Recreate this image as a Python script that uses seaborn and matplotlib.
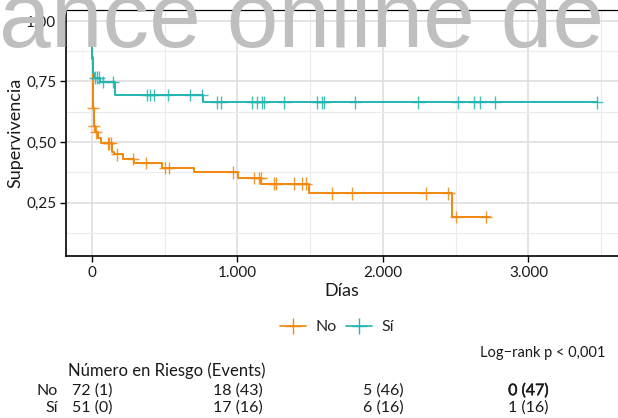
import numpy as np
import pandas as pd
import seaborn as sns
import matplotlib.pyplot as plt
import matplotlib.patheffects as pe
from matplotlib.lines import Line2D
from matplotlib.ticker import FuncFormatter, MultipleLocator
from matplotlib.transforms import blended_transform_factory

groups = ['No', 'Sí']
palette = {'No': '#F0870E', 'Sí': '#22B5B0'}

# Kaplan-Meier steps (days, survival)
no_t = [0, 1, 3, 5, 7, 8, 11, 20, 40, 62, 135, 150, 215, 289, 479, 703, 1001, 1162, 1493, 2476, 2735]
no_s = [1.0, 0.93, 0.85, 0.76, 0.69, 0.64, 0.567, 0.54, 0.515, 0.495, 0.46, 0.449, 0.43, 0.414,
        0.394, 0.375, 0.352, 0.329, 0.288, 0.191, 0.191]
no_cens = [9, 13, 27, 112, 119, 128, 174, 284, 371, 502, 531, 969, 1113, 1148, 1159, 1253, 1265,
           1390, 1441, 1469, 1650, 1785, 2293, 2449, 2500, 2706]

si_t = [0, 1, 3, 6, 10, 14, 55, 158, 763, 3470]
si_s = [1.0, 0.902, 0.843, 0.804, 0.784, 0.766, 0.748, 0.694, 0.664, 0.664]
si_cens = [21, 36, 48, 76, 146, 376, 399, 428, 520, 674, 754, 857, 890, 1102, 1132, 1166, 1184,
           1322, 1550, 1579, 1598, 1808, 2243, 2513, 2625, 2667, 2773, 3469]

risk_times = [0, 1000, 2000, 3000]
risk_no = [72, 18, 5, 0]
events_no = [1, 43, 46, 47]
risk_si = [51, 17, 6, 1]
events_si = [0, 16, 16, 16]

steps = pd.concat([
    pd.DataFrame({'t': no_t, 's': no_s, 'g': 'No'}),
    pd.DataFrame({'t': si_t, 's': si_s, 'g': 'Sí'}),
])


def surv_at(ts, ss, c):
    idx = np.searchsorted(ts, c, side='right') - 1
    return np.asarray(ss)[idx]


cens = pd.concat([
    pd.DataFrame({'t': no_cens, 's': surv_at(no_t, no_s, no_cens), 'g': 'No'}),
    pd.DataFrame({'t': si_cens, 's': surv_at(si_t, si_s, si_cens), 'g': 'Sí'}),
])

sns.set_theme(style='white')
plt.rcParams['font.family'] = ['Lato', 'DejaVu Sans']

fig = plt.figure(figsize=(6.18, 4.18), dpi=100)
ax = fig.add_axes([66 / 618, 1 - 256 / 418, 552 / 618, 246 / 418])

sns.lineplot(data=steps, x='t', y='s', hue='g', palette=palette, drawstyle='steps-post',
             estimator=None, linewidth=1.4, legend=False, ax=ax, zorder=3)
sns.scatterplot(data=cens, x='t', y='s', hue='g', palette=palette, marker='+', s=80,
                linewidth=1.0, alpha=0.85, legend=False, ax=ax, zorder=4)

ax.set_xlim(-178, 3615)
ax.set_ylim(0.03, 1.045)
ax.xaxis.set_major_locator(MultipleLocator(1000))
ax.xaxis.set_minor_locator(MultipleLocator(500))
ax.set_yticks([0.25, 0.5, 0.75, 1.0])
ax.set_yticks([0.125, 0.375, 0.625, 0.875], minor=True)
ax.xaxis.set_major_formatter(FuncFormatter(lambda v, p: f'{int(v):,}'.replace(',', '.')))
ax.yaxis.set_major_formatter(FuncFormatter(lambda v, p: f'{v:.2f}'.replace('.', ',')))
ax.grid(which='major', color='#DEDEDE', linewidth=1.2)
ax.grid(which='minor', color='#EBEBEB', linewidth=0.8)
ax.set_axisbelow(True)
ax.tick_params(which='major', direction='out', length=4, width=1, color='black',
               labelsize=11, labelcolor='#1a1a1a', left=True, bottom=True, pad=3)
ax.tick_params(which='minor', length=0)
for side in ['left', 'bottom']:
    ax.spines[side].set_color('black')
    ax.spines[side].set_linewidth(1.2)
ax.spines['top'].set_color('black')
ax.spines['top'].set_linewidth(0.9)
ax.spines['right'].set_visible(False)
ax.set_xlabel('Días', fontsize=13, color='#1a1a1a', labelpad=2)
ax.set_ylabel('Supervivencia', fontsize=13, color='#1a1a1a')
ax.yaxis.set_label_coords(-0.078, 0.5)

handles = [Line2D([], [], color=palette[g], marker='+', markersize=11, linewidth=1.2,
                  markeredgewidth=1.0) for g in groups]
fig.legend(handles, groups, loc='center', bbox_to_anchor=(337 / 618, 1 - 327 / 418), ncol=2,
           frameon=False, fontsize=11.5, handlelength=1.6, handletextpad=0.6, columnspacing=0.6)

fig.text(605 / 618, 1 - 353 / 418, 'Log−rank p < 0,001', ha='right', va='center',
         fontsize=10.5, color='#1a1a1a')
fig.text(68 / 618, 1 - 371 / 418, 'Número en Riesgo (Events)', ha='left', va='center',
         fontsize=12, color='#1a1a1a')

tr = blended_transform_factory(ax.transData, fig.transFigure)
for g, ypx, risk, ev in [('No', 391, risk_no, events_no), ('Sí', 408, risk_si, events_si)]:
    fig.text(58 / 618, 1 - ypx / 418, g, ha='right', va='center', fontsize=11.5, color='#1a1a1a')
    for i, (t, r, e) in enumerate(zip(risk_times, risk, ev)):
        txt = ax.text(t, 1 - ypx / 418, f'{r} ({e})', transform=tr, ha='center', va='center',
                      fontsize=11.5, color='#1a1a1a', clip_on=False)
        if g == 'No' and i == len(risk_times) - 1:
            txt.set_path_effects([pe.withStroke(linewidth=0.3, foreground='#1a1a1a')])

fig.text(-1 / 618, 1 - 47 / 418, 'ance online de', ha='left', va='baseline', fontsize=67,
         color='#BFBFBF', family=['Liberation Sans', 'DejaVu Sans'], zorder=10)

fig.savefig('out.png', dpi=100)
